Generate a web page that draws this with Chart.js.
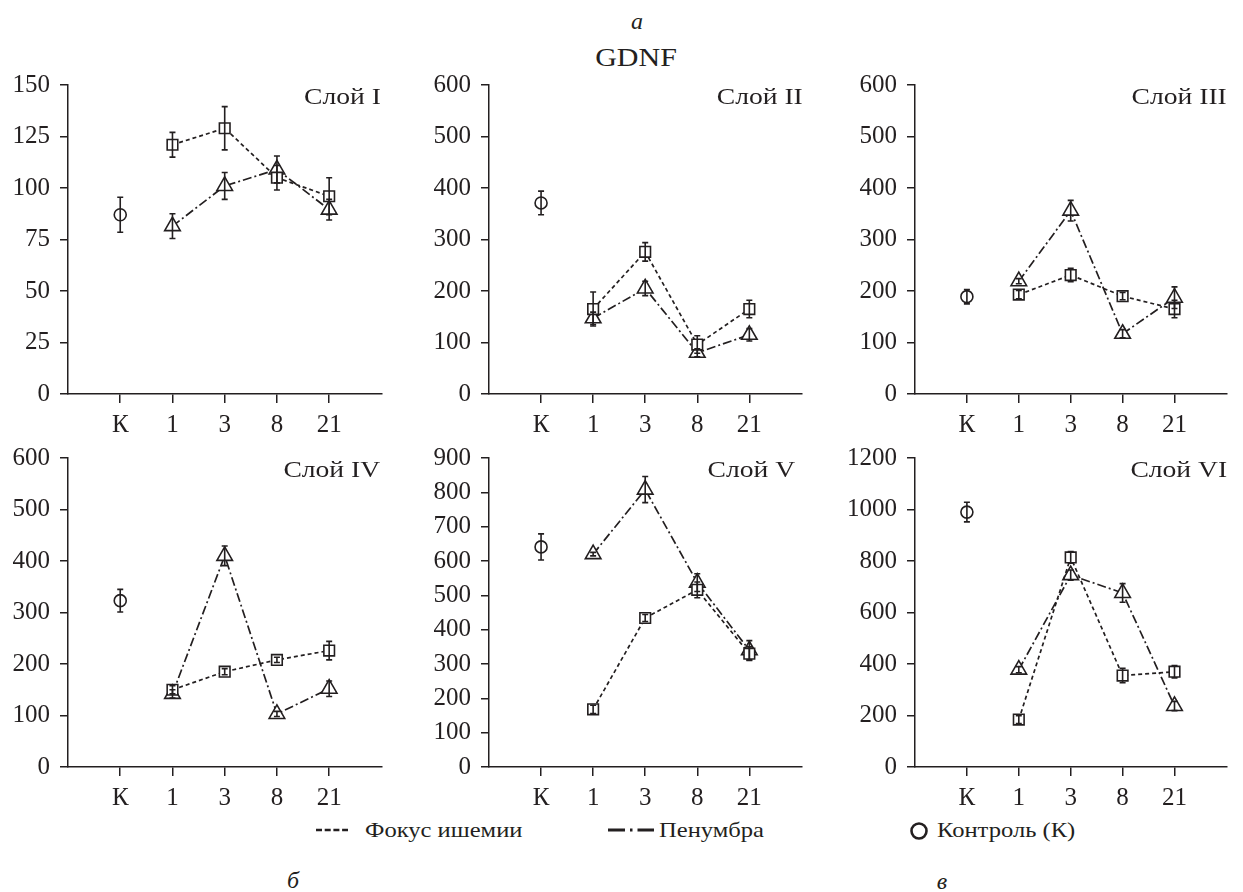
<!DOCTYPE html>
<html>
<head>
<meta charset="utf-8">
<script src="https://cdn.jsdelivr.net/npm/chart.js@4/dist/chart.umd.min.js"></script>
<style>
  body { margin: 0; background: #fff; }
  #wrap { position: relative; width: 1243px; height: 892px; overflow: hidden; font-family: "Liberation Serif", "Times New Roman", serif; color: #231f20; }
  #wrap canvas { position: absolute; }
  .txt { position: absolute; white-space: nowrap; line-height: 30px; height: 30px; }
  .it { font-style: italic; font-size: 24px; transform: translateX(-50%); }
  .layer { font-size: 24px; transform: scaleX(1.15); transform-origin: right center; }
  .legend { font-size: 21px; transform: scaleX(1.17); transform-origin: left center; }
</style>
</head>
<body>
<div id="wrap">
  <div class="txt it" style="left:637px; top:6px;">а</div>
  <div class="txt" style="left:636px; top:43px; font-size:25px; transform: translateX(-50%) scaleX(1.2);">GDNF</div>
  <div class="txt it" style="left:293px; top:865px;">б</div>
  <div class="txt it" style="left:942px; top:866px;">в</div>

  <svg style="position:absolute; left:316px; top:828px;" width="32" height="4">
    <line x1="0" y1="2" x2="32" y2="2" stroke="#231f20" stroke-width="2.5" stroke-dasharray="6,2.7"/>
  </svg>
  <div class="txt legend" style="left:365px; top:815px;">Фокус ишемии</div>
  <svg style="position:absolute; left:608px; top:828px;" width="46" height="4">
    <line x1="0" y1="2" x2="46" y2="2" stroke="#231f20" stroke-width="2.8" stroke-dasharray="17,5,2.5,5,17"/>
  </svg>
  <div class="txt legend" style="left:659px; top:815px;">Пенумбра</div>
  <svg style="position:absolute; left:908px; top:820px;" width="22" height="22">
    <circle cx="11" cy="11" r="7.5" fill="none" stroke="#231f20" stroke-width="2.6"/>
  </svg>
  <div class="txt legend" style="left:937px; top:815px;">Контроль (К)</div>
</div>
<script>
// x categories (К = control, then days after ischemia)
const xLabels = ["К", "1", "3", "8", "21"];
const layerNames = ["Слой I", "Слой II", "Слой III", "Слой IV", "Слой V", "Слой VI"];
const yMax = [150, 600, 600, 600, 900, 1200];
const yStep = [25, 100, 100, 100, 100, 200];

// control group
const controlMean = [87, 371, 189, 323, 641, 990];
const controlErr = [8.5, 23, 14, 22, 38, 38];

// ischemia focus, days 1, 3, 8, 21
const focusMean = [
  [121, 129, 105, 96],
  [165, 276, 96, 165],
  [193, 231, 190, 165],
  [150, 185, 208, 226],
  [168, 434, 516, 330],
  [184, 814, 355, 370],
];
const focusErr = [
  [6, 10.5, 6, 9],
  [33, 18, 17, 17],
  [8, 13, 7, 17],
  [8, 6, 5, 18],
  [12, 10, 23, 20],
  [15, 23, 28, 24],
];

// penumbra, days 1, 3, 8, 21
const penMean = [
  [81.5, 101, 109, 89.5],
  [147, 205, 80, 115],
  [219, 356, 117, 187],
  [142, 410, 103, 152],
  [620, 808, 537, 340],
  [378, 745, 676, 237],
];
const penErr = [
  [6, 6.5, 6.5, 5],
  [12, 14, 8, 12],
  [5, 20, 8, 21],
  [8, 19, 5, 15],
  [5, 38, 26, 28],
  [12, 20, 36, 18],
];

// layout of the six panels
const axisLeft = [68, 489, 915];
const plotWidth = [324, 323, 322];
const rowTop = [60, 433];
const labelRight = [381, 803, 1227, 380, 795, 1227];
const labelMid = [96, 96, 96, 469, 469, 469];

const INK = "#231f20";
const tickFont = { family: "'Liberation Serif', 'Times New Roman', serif", size: 25 };

const errorBars = {
  id: "errorBars",
  afterDatasetsDraw(chart) {
    const { ctx } = chart;
    const xs = chart.scales.x;
    const ys = chart.scales.y;
    ctx.save();
    ctx.strokeStyle = INK;
    ctx.lineWidth = 1.6;
    chart.data.datasets.forEach((ds) => {
      (ds.errors || []).forEach((e, j) => {
        const p = ds.data[j];
        const px = xs.getPixelForValue(p.x);
        const top = ys.getPixelForValue(p.y + e);
        const bot = ys.getPixelForValue(p.y - e);
        ctx.beginPath();
        ctx.moveTo(px, top);
        ctx.lineTo(px, bot);
        ctx.moveTo(px - 3, top);
        ctx.lineTo(px + 3, top);
        ctx.moveTo(px - 3, bot);
        ctx.lineTo(px + 3, bot);
        ctx.stroke();
      });
    });
    ctx.restore();
  },
};

function daySeries(values) {
  return values.map((v, j) => ({ x: j + 2, y: v }));
}

function makePanel(i) {
  const col = i % 3;
  const row = Math.floor(i / 3);
  const wrap = document.getElementById("wrap");

  const canvas = document.createElement("canvas");
  canvas.width = 68 + plotWidth[col];
  canvas.height = 378;
  canvas.style.left = axisLeft[col] - 68 + "px";
  canvas.style.top = rowTop[row] + "px";
  wrap.appendChild(canvas);

  const label = document.createElement("div");
  label.className = "txt layer";
  label.textContent = layerNames[i];
  label.style.right = 1243 - labelRight[i] + "px";
  label.style.top = labelMid[i] - 15 + "px";
  wrap.appendChild(label);

  const point = {
    pointBackgroundColor: "#fff",
    pointBorderColor: INK,
    pointBorderWidth: 1.6,
    borderColor: INK,
    borderWidth: 1.7,
    tension: 0,
    fill: false,
  };

  new Chart(canvas, {
    type: "line",
    data: {
      datasets: [
        {
          ...point,
          label: "Фокус ишемии",
          data: daySeries(focusMean[i]),
          errors: focusErr[i],
          borderDash: [4, 3],
          pointStyle: "rect",
          pointRadius: 7.5,
        },
        {
          ...point,
          label: "Пенумбра",
          data: daySeries(penMean[i]),
          errors: penErr[i],
          borderDash: [9, 3, 2, 3],
          pointStyle: "triangle",
          pointRadius: 9,
        },
        {
          ...point,
          label: "Контроль (К)",
          data: [{ x: 1, y: controlMean[i] }],
          errors: [controlErr[i]],
          showLine: false,
          pointStyle: "circle",
          pointRadius: 6,
        },
      ],
    },
    options: {
      responsive: false,
      animation: false,
      events: [],
      layout: { padding: { top: 16, left: 0, right: 0, bottom: 0 } },
      plugins: { legend: { display: false }, tooltip: { enabled: false } },
      scales: {
        x: {
          type: "linear",
          min: 0,
          max: 6,
          afterBuildTicks: (s) => {
            s.ticks = xLabels.map((_, j) => ({ value: j + 1 }));
          },
          afterFit: (s) => {
            s.height = 44;
          },
          grid: { drawOnChartArea: false, drawTicks: true, tickLength: 9, color: INK, lineWidth: 1.5 },
          border: { color: INK, width: 1.5 },
          ticks: {
            callback: (v) => xLabels[v - 1],
            font: tickFont,
            color: INK,
            padding: 7,
            autoSkip: false,
            maxRotation: 0,
          },
        },
        y: {
          min: 0,
          max: yMax[i],
          afterFit: (s) => {
            s.width = 68;
          },
          grid: { drawOnChartArea: false, drawTicks: true, tickLength: 8, color: INK, lineWidth: 1.5 },
          border: { color: INK, width: 1.5 },
          ticks: {
            stepSize: yStep[i],
            font: tickFont,
            color: INK,
            padding: 10,
            callback: (v) => String(v),
          },
        },
      },
    },
    plugins: [errorBars],
  });
}

for (let i = 0; i < 6; i++) makePanel(i);
</script>
</body>
</html>
